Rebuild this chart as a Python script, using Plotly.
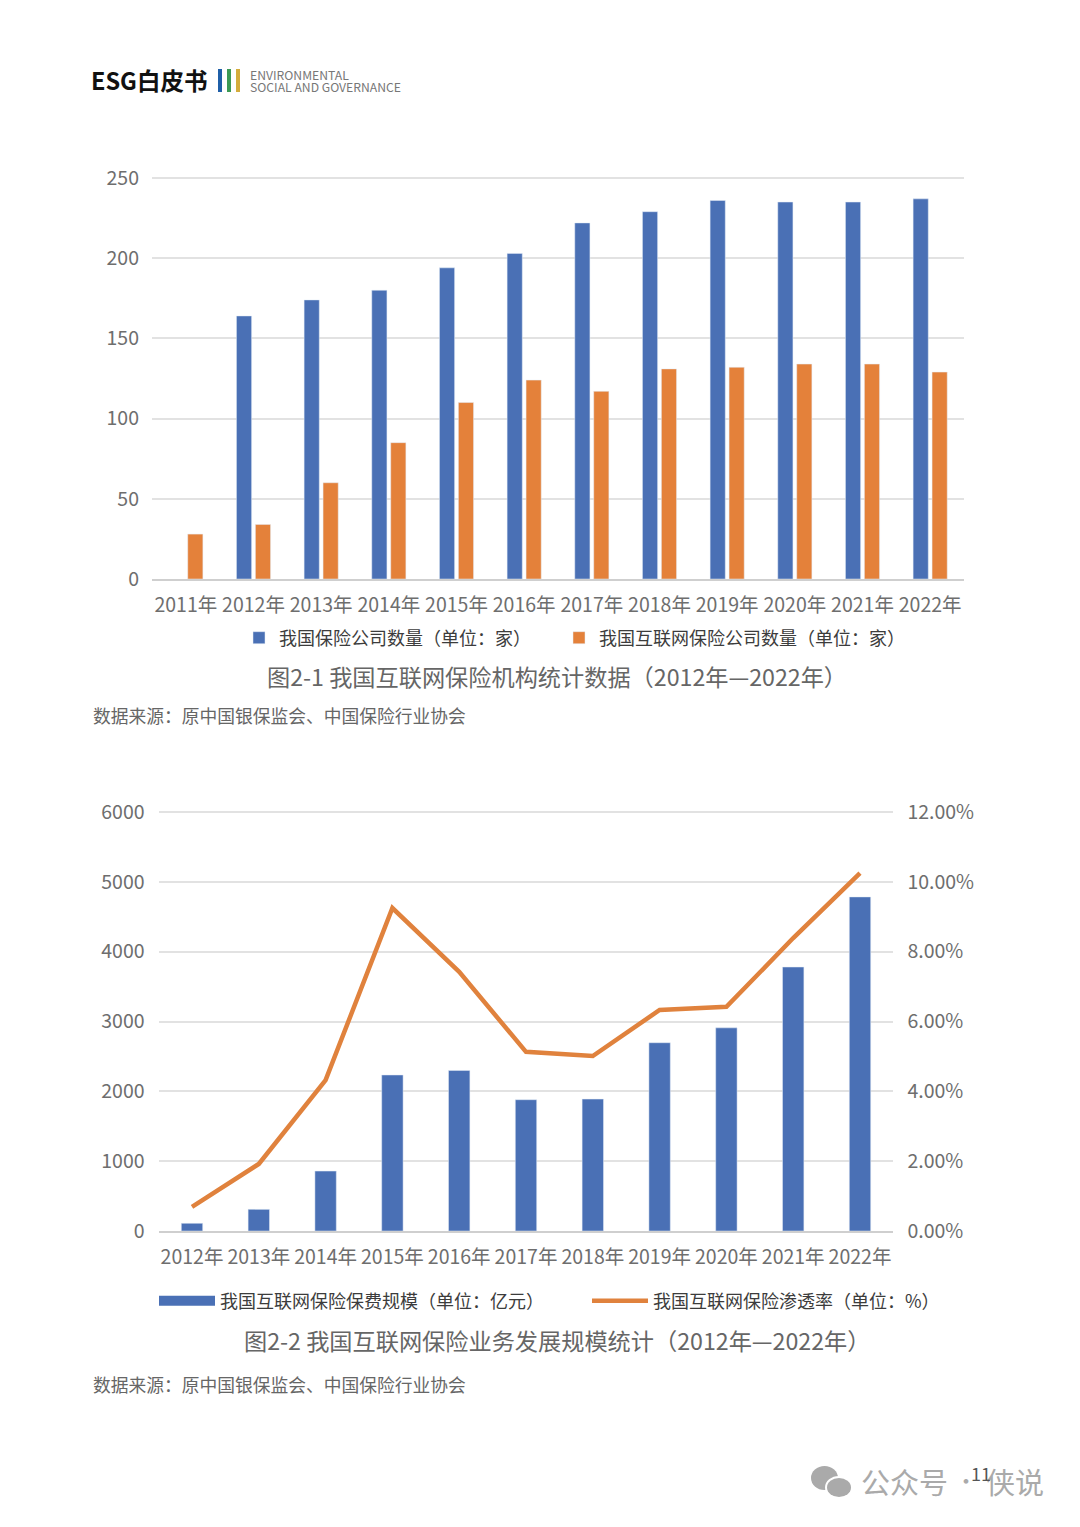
import plotly.graph_objects as go

PAGE_W, PAGE_H = 1080, 1527
BODY = 8  # default page margin around the figure
W, H = PAGE_W - 2 * BODY, PAGE_H - 2 * BODY
FONT = "Noto Sans CJK SC"

years1 = ["2011年","2012年","2013年","2014年","2015年","2016年","2017年","2018年","2019年","2020年","2021年","2022年"]
insurers = [None,164,174,180,194,203,222,229,236,235,235,237]
online_insurers = [28,34,60,85,110,124,117,131,132,134,134,129]

years2 = ["2012年","2013年","2014年","2015年","2016年","2017年","2018年","2019年","2020年","2021年","2022年"]
premium = [110,310,858,2234,2299,1880,1889,2696,2909,3780,4784]
penetration = [0.69,1.92,4.32,9.25,7.42,5.13,5.01,6.33,6.42,8.39,10.25]

name1 = "我国保险公司数量（单位：家）"
name2 = "我国互联网保险公司数量（单位：家）"
name3 = "我国互联网保险保费规模（单位：亿元）"
name4 = "我国互联网保险渗透率（单位：%）"

BLUE, ORANGE, LINE = "#4A70B5", "#E4813A", "#E0823D"
def px(x): return (x - BODY) / W
def py(y): return 1 - (y - BODY) / H

fig = go.Figure()
fig.add_bar(x=years1, y=insurers, name=name1, marker_color=BLUE, xaxis="x", yaxis="y", legend="legend")
fig.add_bar(x=years1, y=online_insurers, name=name2, marker_color=ORANGE, xaxis="x", yaxis="y", legend="legend3")
fig.add_bar(x=years2, y=premium, width=0.32, marker_color=BLUE, showlegend=False, xaxis="x2", yaxis="y2")
# legend swatch for the bars: wide block, as in the source
fig.add_scatter(x=[None], y=[None], mode="lines", name=name3, line=dict(color=BLUE, width=15),
                xaxis="x2", yaxis="y2", legend="legend2")
fig.add_scatter(x=years2, y=penetration, mode="lines", name=name4, line=dict(color=LINE, width=4.5),
                xaxis="x2", yaxis="y3", legend="legend2")

tick = dict(family=FONT, size=19.5, color="#6e6e6e")
grid = "#e2e2e2"
common_x = dict(type="category", showgrid=False, showline=True, linecolor="#cfcfcf", linewidth=2,
                ticks="", tickfont=tick, tickangle=0, ticklabelstandoff=8, fixedrange=True)
common_y = dict(showgrid=True, gridcolor=grid, gridwidth=1.5, zeroline=False, showline=False,
                tickfont=tick, ticks="", fixedrange=True, ticklabelstandoff=12)

def text(x, y, s, size, color, anchor="left", weight=None):
    f = dict(family=FONT, size=size, color=color)
    if weight: f["weight"] = weight
    return dict(x=px(x), y=py(y), xref="paper", yref="paper", text=s, showarrow=False,
                xanchor=anchor, yanchor="middle", font=f)

def rect(x0, y0, x1, y1, color, kind="rect"):
    return dict(type=kind, xref="paper", yref="paper", x0=px(x0), x1=px(x1), y0=py(y0), y1=py(y1),
                fillcolor=color, line=dict(width=0), layer="above")

def legend(x, y, **kw):
    return dict(orientation="h", x=px(x), y=py(y), xanchor="left", yanchor="middle", xref="paper", yref="paper",
                font=dict(family=FONT, size=18, color="#3c3c3c"), traceorder="normal",
                bgcolor="rgba(0,0,0,0)", **kw)

SRC = "数据来源：原中国银保监会、中国保险行业协会"
annotations = [
    text(89, 80, "ESG白皮书", 23.5, "#111111", weight=700),
    text(248, 75, "ENVIRONMENTAL", 12.2, "#777777"),
    text(248, 87, "SOCIAL AND GOVERNANCE", 12.2, "#777777"),
    text(557, 676.5, "图2-1 我国互联网保险机构统计数据（2012年—2022年）", 23.2, "#666666", "center"),
    text(91, 714.5, SRC, 17.75, "#666666"),
    text(557, 1339.5, "图2-2 我国互联网保险业务发展规模统计（2012年—2022年）", 23.2, "#666666", "center"),
    text(91, 1383.5, SRC, 17.75, "#666666"),
    text(859, 1481, "公众号", 29, "#aaaaaa"),
    text(966, 1479, "·", 22, "#aaaaaa", "center"),
    text(984, 1481, "侠说", 29, "#aaaaaa"),
    text(969, 1473, "11", 18, "#555555"),
]
shapes = [
    rect(218, 69, 222, 92, "#1F5FA8"), rect(227, 69, 231, 92, "#3C9A55"), rect(236, 69, 240, 92, "#D4AC3C"),
    rect(811, 1466, 838, 1490, "#aaaaaa", "circle"),
    rect(825, 1476, 853, 1499, "#ffffff", "circle"),
    rect(827, 1478, 851, 1497, "#aaaaaa", "circle"),
]

# axis tops run 2px past the top gridline so that gridline is still drawn
fig.update_layout(
    width=W, height=H, autosize=False, margin=dict(l=0, r=0, t=0, b=0, autoexpand=False),
    paper_bgcolor="#ffffff", plot_bgcolor="#ffffff", barmode="group", bargap=0.44, bargroupgap=0.2,
    font=dict(family=FONT),
    xaxis=dict(common_x, domain=[px(152), px(964)], anchor="y"),
    yaxis=dict(common_y, domain=[py(579), py(176)], range=[0, 251.25], tick0=0, dtick=50, anchor="x"),
    xaxis2=dict(common_x, domain=[px(158.6), px(893.4)], anchor="y2"),
    yaxis2=dict(common_y, domain=[py(1231), py(810)], range=[0, 6028.6], tick0=0, dtick=1000, anchor="x2",
                ticklabelstandoff=13),
    yaxis3=dict(common_y, domain=[py(1231), py(810)], range=[0, 12.057], tick0=0, dtick=2, tickformat=".2f",
                ticksuffix="%", overlaying="y2", side="right", showgrid=False, anchor="x2", ticklabelstandoff=13),
    legend=legend(239, 638),
    legend3=legend(559, 638),
    legend2=legend(154, 1301, itemwidth=56, entrywidth=362, entrywidthmode="pixels"),
    annotations=annotations, shapes=shapes, showlegend=True,
)
fig.write_html("out.html", config={"displayModeBar": False})
